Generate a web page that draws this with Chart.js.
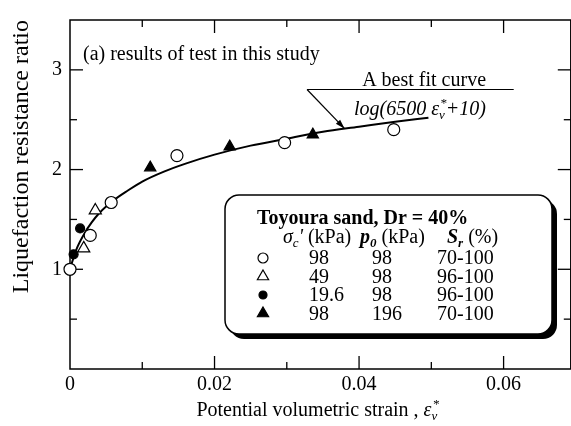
<!DOCTYPE html>
<html>
<head>
<meta charset="utf-8">
<script src="https://cdn.jsdelivr.net/npm/chart.js@4/dist/chart.umd.min.js"></script>
<style>
  html, body { margin: 0; padding: 0; background: #fff; overflow: hidden; }
  #wrap { width: 571px; height: 426px; overflow: hidden; }
  canvas { display: block; }
</style>
</head>
<body>
<div id="wrap"><canvas id="chart" width="579" height="426" style="width:579px;height:426px"></canvas></div>
<script>
// sigma_c' 98 kPa, p0 98 kPa (open circles)
const openCircleX = [0, 0.0028, 0.0057, 0.0148, 0.0297, 0.0448];
const openCircleY = [1.00, 1.34, 1.67, 2.14, 2.27, 2.40];
// sigma_c' 49 kPa (open triangles)
const openTriX = [0.0019, 0.0035];
const openTriY = [1.21, 1.59];
// sigma_c' 19.6 kPa (filled circles)
const fillCircleX = [0.0005, 0.0014];
const fillCircleY = [1.15, 1.41];
// p0 196 kPa (filled triangles)
const fillTriX = [0.0111, 0.0221, 0.0336];
const fillTriY = [2.02, 2.23, 2.35];
// best fit curve
const curveX = [0, 0.0005, 0.001, 0.002, 0.003, 0.004, 0.006, 0.008, 0.010, 0.013, 0.016, 0.020, 0.025, 0.030, 0.035, 0.040, 0.045, 0.0496];
const curveY = [1.00, 1.12, 1.22, 1.36, 1.47, 1.56, 1.69, 1.79, 1.88, 1.98, 2.06, 2.15, 2.24, 2.31, 2.38, 2.43, 2.48, 2.52];

// axes
const xLabelTicks = [0, 0.02, 0.04, 0.06];
const xMinorTicks = [0.01, 0.03, 0.05];
const yLabelTicks = [1, 2, 3];
const yMinorTicks = [0.5, 1.5, 2.5];

// legend table
const legendTitle = 'Toyoura sand, Dr = 40%';
const legendSigma = ['98', '49', '19.6', '98'];
const legendP0 = ['98', '98', '98', '196'];
const legendSr = ['70-100', '96-100', '96-100', '70-100'];
const legendMarks = ['openCircle', 'openTri', 'fillCircle', 'fillTri'];

const SERIF = "'Liberation Serif', 'Times New Roman', serif";
const pts = (xs, ys) => xs.map((v, i) => ({ x: v, y: ys[i] }));

function drawMark(ctx, kind, cx, cy) {
  ctx.beginPath();
  if (kind.endsWith('Circle')) {
    ctx.arc(cx, cy, kind === 'openCircle' ? 5 : 4, 0, Math.PI * 2);
  } else {
    const r = 6.5;
    ctx.moveTo(cx, cy - r);
    ctx.lineTo(cx + r * 0.866, cy + r / 2);
    ctx.lineTo(cx - r * 0.866, cy + r / 2);
    ctx.closePath();
  }
  ctx.lineWidth = 1.2;
  ctx.strokeStyle = '#000';
  ctx.fillStyle = kind.startsWith('open') ? '#fff' : '#000';
  ctx.fill();
  ctx.stroke();
}

// draws text pieces one after another: [text, font, dy]
function drawRuns(ctx, runs, x, y) {
  let cx = x;
  runs.forEach(([t, f, dy]) => {
    ctx.font = f;
    ctx.fillText(t, cx, y + (dy || 0));
    cx += ctx.measureText(t).width;
  });
  return cx;
}

const paperPlugin = {
  id: 'paper',
  beforeDatasetsDraw(chart) {
    const { ctx, chartArea: a, scales: { x, y } } = chart;
    ctx.save();
    ctx.strokeStyle = '#000';
    ctx.lineWidth = 1.5;
    ctx.strokeRect(a.left, a.top, a.right - a.left, a.bottom - a.top);
    const seg = (x1, y1, x2, y2) => { ctx.beginPath(); ctx.moveTo(x1, y1); ctx.lineTo(x2, y2); ctx.stroke(); };
    ctx.lineWidth = 1.3;
    xLabelTicks.concat(xMinorTicks).forEach(v => {
      if (v === 0) return;
      const px = x.getPixelForValue(v);
      const len = xMinorTicks.includes(v) ? 7 : 13;
      seg(px, a.bottom, px, a.bottom - len);
      seg(px, a.top, px, a.top + len);
    });
    yLabelTicks.concat(yMinorTicks).forEach(v => {
      const py = y.getPixelForValue(v);
      const len = yMinorTicks.includes(v) ? 7 : 13;
      seg(a.left, py, a.left + len, py);
      seg(a.right, py, a.right - len, py);
    });
    ctx.restore();
  },
  afterDraw(chart) {
    const { ctx, chartArea: a, scales: { x, y } } = chart;
    ctx.save();
    ctx.fillStyle = '#000';
    ctx.textBaseline = 'alphabetic';
    ctx.textAlign = 'left';

    // panel label
    ctx.font = `20px ${SERIF}`;
    ctx.fillText('(a) results of test in this study', a.left + 13, a.top + 40);

    // best fit annotation
    const lx0 = x.getPixelForValue(0.0328), ly = y.getPixelForValue(2.803);
    const lx1 = x.getPixelForValue(0.0614);
    const tipX = x.getPixelForValue(0.0380), tipY = y.getPixelForValue(2.41);
    ctx.strokeStyle = '#000';
    ctx.lineWidth = 1.2;
    ctx.beginPath(); ctx.moveTo(lx0, ly); ctx.lineTo(lx1, ly); ctx.stroke();
    ctx.beginPath(); ctx.moveTo(lx0, ly); ctx.lineTo(tipX, tipY); ctx.stroke();
    const ang = Math.atan2(tipY - ly, tipX - lx0);
    ctx.beginPath();
    ctx.moveTo(tipX, tipY);
    ctx.lineTo(tipX - 10 * Math.cos(ang - 0.3), tipY - 10 * Math.sin(ang - 0.3));
    ctx.lineTo(tipX - 10 * Math.cos(ang + 0.3), tipY - 10 * Math.sin(ang + 0.3));
    ctx.closePath(); ctx.fill();

    ctx.font = `20px ${SERIF}`;
    ctx.textAlign = 'center';
    ctx.fillText('A best fit curve', x.getPixelForValue(0.049), y.getPixelForValue(2.836));
    ctx.textAlign = 'left';
    const it = `italic 20px ${SERIF}`, itSmall = `italic 13px ${SERIF}`;
    const fx = x.getPixelForValue(0.0393), fy = y.getPixelForValue(2.55);
    let cx = drawRuns(ctx, [['log(6500 ', it], ['ε', it]], fx, fy);
    ctx.font = itSmall;
    ctx.fillText('v', cx, fy + 4);
    ctx.fillText('*', cx + 1, fy - 8);
    cx += ctx.measureText('v').width + 1;
    drawRuns(ctx, [['+10)', it]], cx, fy);

    // x axis title
    const reg = `20px ${SERIF}`;
    const titleStr = 'Potential volumetric strain , ';
    ctx.font = reg;
    const tw = ctx.measureText(titleStr).width + 20;
    let tx = 320 - tw / 2;
    const ty = 416;
    tx = drawRuns(ctx, [[titleStr, reg], ['ε', it]], tx, ty);
    ctx.font = itSmall;
    ctx.fillText('v', tx, ty + 4);
    ctx.fillText('*', tx + 1, ty - 8);

    // legend box
    const bx = a.left + 155, by = a.top + 175, bw = 327, bh = 139;
    ctx.fillStyle = '#000';
    ctx.beginPath(); ctx.roundRect(bx + 5, by + 5, bw, bh, 14); ctx.fill();
    ctx.fillStyle = '#fff';
    ctx.beginPath(); ctx.roundRect(bx, by, bw, bh, 14); ctx.fill();
    ctx.lineWidth = 1.5; ctx.strokeStyle = '#000'; ctx.stroke();

    ctx.fillStyle = '#000';
    ctx.font = `bold 20px ${SERIF}`;
    ctx.fillText(legendTitle, bx + 32, by + 29);

    const hy = by + 48;
    const sub = `italic 13px ${SERIF}`, bi = `bold italic 20px ${SERIF}`, biSmall = `bold italic 13px ${SERIF}`;
    drawRuns(ctx, [['σ', it], ['c', sub, 4], ["'", it], [' (kPa)', reg]], bx + 58, hy);
    drawRuns(ctx, [['p', bi], ['0', biSmall, 4], [' (kPa)', reg]], bx + 135, hy);
    drawRuns(ctx, [['S', bi], ['r', biSmall, 4], [' (%)', reg]], bx + 222, hy);

    legendMarks.forEach((m, i) => {
      const ry = by + 69 + i * 18.5;
      drawMark(ctx, m, bx + 38, ry - 6);
      ctx.font = reg;
      ctx.fillStyle = '#000';
      ctx.fillText(legendSigma[i], bx + 84, ry);
      ctx.fillText(legendP0[i], bx + 147, ry);
      ctx.fillText(legendSr[i], bx + 212, ry);
    });
    ctx.restore();
  }
};

const markBase = { type: 'scatter', showLine: false, borderColor: '#000', borderWidth: 1.2, clip: false };

new Chart(document.getElementById('chart'), {
  type: 'scatter',
  data: {
    datasets: [
      {
        label: 'Best fit', type: 'line', data: pts(curveX, curveY),
        borderColor: '#000', borderWidth: 2, pointRadius: 0, fill: false,
        cubicInterpolationMode: 'monotone', order: 5
      },
      { ...markBase, label: '98/98', data: pts(openCircleX, openCircleY), pointStyle: 'circle', pointRadius: 6, backgroundColor: '#fff', order: 1 },
      { ...markBase, label: '49/98', data: pts(openTriX, openTriY), pointStyle: 'triangle', pointRadius: 7, backgroundColor: '#fff', order: 1 },
      { ...markBase, label: '19.6/98', data: pts(fillCircleX, fillCircleY), pointStyle: 'circle', pointRadius: 4.5, backgroundColor: '#000', order: 1 },
      { ...markBase, label: '98/196', data: pts(fillTriX, fillTriY), pointStyle: 'triangle', pointRadius: 6.5, backgroundColor: '#000', order: 1 }
    ]
  },
  options: {
    responsive: false,
    animation: false,
    events: [],
    layout: { padding: { top: 13, right: 1, left: 0, bottom: 0 } },
    plugins: { legend: { display: false }, tooltip: { enabled: false } },
    scales: {
      x: {
        type: 'linear', min: 0, max: 0.0693,
        grid: { display: false, drawTicks: false },
        border: { display: false },
        ticks: {
          stepSize: 0.01, includeBounds: false, autoSkip: false, maxRotation: 0, padding: 4,
          color: '#000', font: { family: SERIF, size: 20 },
          callback: v => {
            const hit = xLabelTicks.find(t => Math.abs(t - v) < 1e-9);
            return hit === undefined ? '' : String(hit);
          }
        },
        afterFit: s => { s.height = 57; }
      },
      y: {
        type: 'linear', min: 0, max: 3.5,
        grid: { display: false, drawTicks: false },
        border: { display: false },
        ticks: {
          stepSize: 0.5, includeBounds: false, autoSkip: false, padding: 8,
          color: '#000', font: { family: SERIF, size: 20 },
          callback: v => (yLabelTicks.includes(v) ? String(v) : '')
        },
        title: {
          display: true, text: 'Liquefaction resistance ratio', align: 'end',
          color: '#000', font: { family: SERIF, size: 24 }, padding: { top: 7, bottom: 0 }
        },
        afterFit: s => { s.width = 70; }
      }
    }
  },
  plugins: [paperPlugin]
});
</script>
</body>
</html>
